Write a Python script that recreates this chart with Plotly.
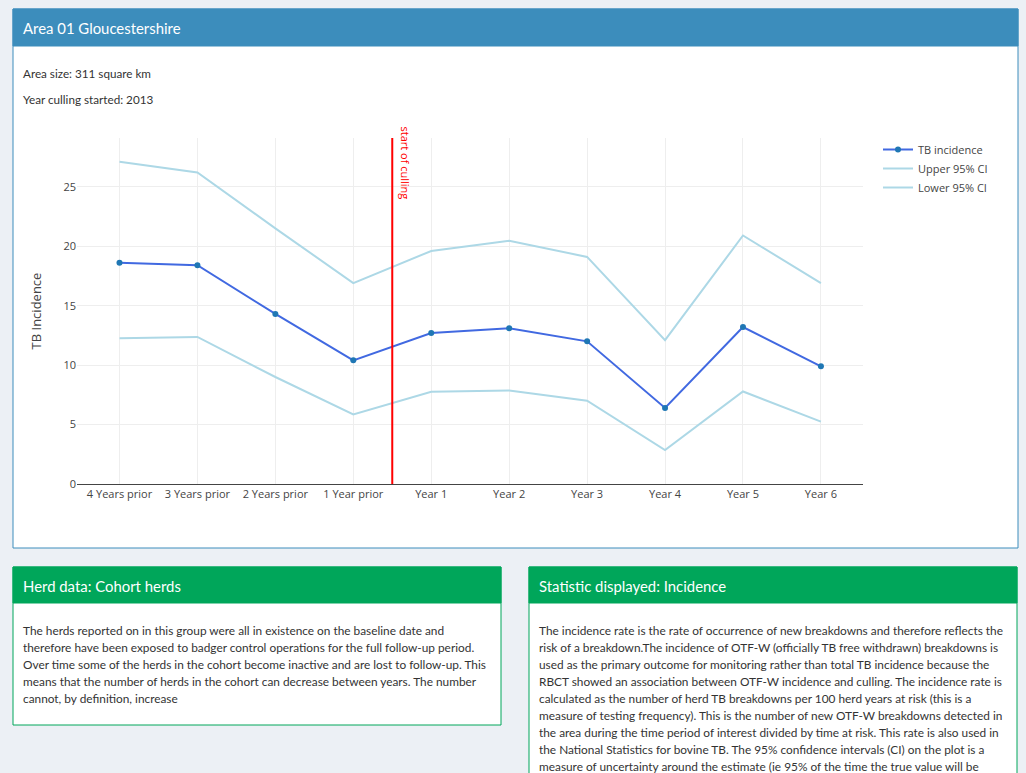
import plotly.graph_objects as go

# ---- data ----
categories = ["4 Years prior", "3 Years prior", "2 Years prior", "1 Year prior",
              "Year 1", "Year 2", "Year 3", "Year 4", "Year 5", "Year 6"]
tb_incidence = [18.6, 18.4, 14.3, 10.4, 12.7, 13.1, 12.0, 6.4, 13.2, 9.9]
upper_ci = [27.1, 26.2, 21.5, 16.9, 19.6, 20.45, 19.1, 12.1, 20.9, 16.9]
lower_ci = [12.25, 12.37, 9.0, 5.85, 7.75, 7.87, 7.0, 2.86, 7.78, 5.25]
culling_start_pos = 3.5  # between "1 Year prior" and "Year 1"

title_main = "Area 01 Gloucestershire"
info_lines = ["Area size: 311 square km", "Year culling started: 2013"]
herd_title = "Herd data: Cohort herds"
herd_lines = [
    "The herds reported on in this group were all in existence on the baseline date and",
    "therefore have been exposed to badger control operations for the full follow-up period.",
    "Over time some of the herds in the cohort become inactive and are lost to follow-up. This",
    "means that the number of herds in the cohort can decrease between years. The number",
    "cannot, by definition, increase",
]
stat_title = "Statistic displayed: Incidence"
stat_lines = [
    "The incidence rate is the rate of occurrence of new breakdowns and therefore reflects the",
    "risk of a breakdown.The incidence of OTF-W (officially TB free withdrawn) breakdowns is",
    "used as the primary outcome for monitoring rather than total TB incidence because the",
    "RBCT showed an association between OTF-W incidence and culling. The incidence rate is",
    "calculated as the number of herd TB breakdowns per 100 herd years at risk (this is a",
    "measure of testing frequency). This is the number of new OTF-W breakdowns detected in",
    "the area during the time period of interest divided by time at risk. This rate is also used in",
    "the National Statistics for bovine TB. The 95% confidence intervals (CI) on the plot is a",
    "measure of uncertainty around the estimate (ie 95% of the time the true value will be",
]

# ---- layout geometry (pixels) ----
W, H = 1026, 773
ML, MR, MT, MB = 77, 163, 138, 289
PW = W - ML - MR
PH = H - MT - MB


def fx(px):
    return (px - ML) / PW


def fy(py):
    return (H - MB - py) / PH


UI_FONT = "Lato"
BLUE = "#3c8dbc"
GREEN = "#00a65a"

fig = go.Figure()
fig.add_trace(go.Scatter(x=categories, y=tb_incidence, name="TB incidence",
                         mode="lines+markers",
                         line=dict(color="royalblue", width=2),
                         marker=dict(color="#1f77b4", size=6)))
fig.add_trace(go.Scatter(x=categories, y=upper_ci, name="Upper 95% CI",
                         mode="lines", line=dict(color="lightblue", width=2)))
fig.add_trace(go.Scatter(x=categories, y=lower_ci, name="Lower 95% CI",
                         mode="lines", line=dict(color="lightblue", width=2)))

shapes = []


def box(x0, y0, x1, y1, color, header_bottom):
    shapes.append(dict(type="rect", xref="paper", yref="paper", layer="below",
                       x0=fx(x0), x1=fx(x1), y0=fy(y1), y1=fy(y0),
                       fillcolor="white", line=dict(color=color, width=1)))
    shapes.append(dict(type="rect", xref="paper", yref="paper", layer="below",
                       x0=fx(x0), x1=fx(x1), y0=fy(header_bottom), y1=fy(y0),
                       fillcolor=color, line=dict(color=color, width=1)))


box(13, 9, 1018, 548, BLUE, 46)
box(13, 567, 501, 725, GREEN, 603)
box(529, 567, 1017, 790, GREEN, 603)

shapes.append(dict(type="line", xref="x", yref="paper", x0=culling_start_pos,
                   x1=culling_start_pos, y0=0, y1=1,
                   line=dict(color="red", width=2)))

ann = []


def text(px, py, s, size, color, anchor="left"):
    ann.append(dict(x=fx(px), y=fy(py), xref="paper", yref="paper", text=s,
                    showarrow=False, xanchor=anchor, yanchor="middle",
                    font=dict(family=UI_FONT, size=size, color=color)))


TITLE_SIZE = 14.9
BODY_SIZE = 11.85
text(21, 27.5, title_main, TITLE_SIZE, "white")
text(21, 73, info_lines[0], 11.7, "#333")
text(21, 99, info_lines[1], 11.7, "#333")
text(21, 585.5, herd_title, TITLE_SIZE, "white")
for i, line in enumerate(herd_lines):
    text(21, 630.5 + i * 17, line, BODY_SIZE, "#333")
text(537, 585.5, stat_title, TITLE_SIZE, "white")
for i, line in enumerate(stat_lines):
    text(537, 630.5 + i * 17, line, BODY_SIZE, "#333")

ann.append(dict(x=fx(405), y=fy(162.5), xref="paper", yref="paper",
                text="start of culling", showarrow=False, textangle=90,
                xanchor="center", yanchor="middle",
                font=dict(family="Open Sans", size=11, color="red")))

fig.update_layout(
    width=W, height=H,
    margin=dict(l=ML, r=MR, t=MT, b=MB, pad=0),
    paper_bgcolor="#ecf0f5",
    plot_bgcolor="rgba(0,0,0,0)",
    font=dict(family="Open Sans", size=11, color="#444"),
    shapes=shapes,
    annotations=ann,
    showlegend=True,
    legend=dict(x=fx(878), y=fy(135), xanchor="left", yanchor="top",
                font=dict(size=11), bgcolor="rgba(0,0,0,0)"),
    xaxis=dict(type="category", range=[-0.545, 9.54], showgrid=True,
               gridcolor="#eee", showline=True, linecolor="#444",
               linewidth=1, ticks="", tickfont=dict(size=11)),
    yaxis=dict(range=[0, 29.1], dtick=5, showgrid=True, gridcolor="#eee",
               zeroline=False, ticks="", tickfont=dict(size=11),
               title=dict(text="TB Incidence", font=dict(size=13), standoff=18)),
)

fig.write_html("out.html", config={"displayModeBar": False})
